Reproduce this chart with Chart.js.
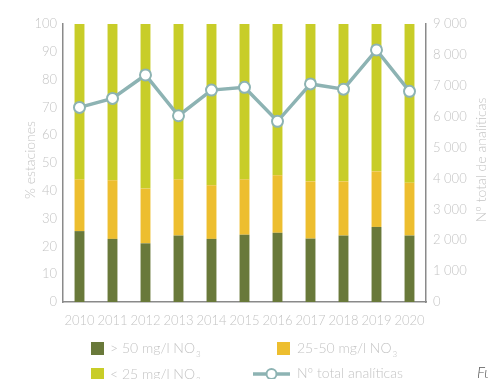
<!DOCTYPE html>
<html>
<head>
<meta charset="utf-8">
<script src="https://cdn.jsdelivr.net/npm/chart.js@4/dist/chart.umd.min.js"></script>
<style>
  html, body { margin: 0; padding: 0; background: #fff; }
  #wrap { width: 488px; height: 379px; }
</style>
</head>
<body>
<div id="wrap"><canvas id="chart" width="488" height="379"></canvas></div>
<script>
// Years on the x axis
const years = ['2010', '2011', '2012', '2013', '2014', '2015', '2016', '2017', '2018', '2019', '2020'];

// % of stations per nitrate band (stacked to 100)
const over50 = [25.5, 22.7, 21.1, 23.9, 22.7, 24.2, 24.9, 22.8, 23.9, 27.0, 23.9];
const from25to50 = [18.6, 21.1, 19.7, 20.2, 19.3, 19.9, 20.7, 20.6, 19.5, 20.0, 19.0];
const under25 = [55.9, 56.2, 59.2, 55.9, 58.0, 55.9, 54.4, 56.6, 56.6, 53.0, 57.1];

// Total number of analyses (right axis)
const totalAnalyses = [6300, 6590, 7350, 6030, 6860, 6950, 5850, 7060, 6890, 8160, 6820];

const FONT = 'Lato, "Open Sans", sans-serif';
const gray = '#c4c4c4';
const axisGray = '#8a8a8a';
const darkGreen = '#69793a';
const orange = '#edbe2f';
const lightGreen = '#c8cd28';
const teal = '#8db3b3';

// draws axis titles, legend and the cut footer text
const extras = {
    id: 'extras',
    afterDraw(chart) {
        const c = chart.ctx;
        c.save();
        c.fillStyle = gray;
        c.font = '300 14px ' + FONT;
        c.textAlign = 'center';
        c.textBaseline = 'middle';

        // left title
        c.save();
        c.translate(30, 160);
        c.rotate(-Math.PI / 2);
        c.fillText('% estaciones', 0, 0);
        c.restore();

        // right title (reads bottom to top)
        c.save();
        c.translate(481, 160);
        c.rotate(-Math.PI / 2);
        c.fillText('Nº total de analíticas', 0, 0);
        c.restore();

        // legend
        function noText(x, y, txt) {
            c.textAlign = 'left';
            c.font = '300 14px ' + FONT;
            c.fillText(txt, x, y);
            const w = c.measureText(txt).width;
            c.font = '300 8px ' + FONT;
            c.fillText('3', x + w + 1, y + 6);
        }
        c.textBaseline = 'middle';
        c.fillStyle = darkGreen;
        c.fillRect(91, 342, 13, 13);
        c.fillStyle = gray;
        noText(110, 348, '> 50 mg/l NO');

        c.fillStyle = orange;
        c.fillRect(277, 342, 13, 13);
        c.fillStyle = gray;
        noText(297, 348, '25-50 mg/l NO');

        c.fillStyle = lightGreen;
        c.fillRect(91, 368, 13, 13);
        c.fillStyle = gray;
        noText(110, 374, '< 25 mg/l NO');

        c.strokeStyle = teal;
        c.lineWidth = 3.5;
        c.beginPath();
        c.moveTo(253, 374);
        c.lineTo(290, 374);
        c.stroke();
        c.beginPath();
        c.arc(271.5, 374, 5, 0, Math.PI * 2);
        c.fillStyle = '#fff';
        c.fill();
        c.lineWidth = 2;
        c.stroke();
        c.fillStyle = gray;
        c.textAlign = 'left';
        c.font = '300 14px ' + FONT;
        c.fillText('Nº total analíticas', 297, 373);

        c.fillStyle = '#555';
        c.font = 'italic 300 15px ' + FONT;
        c.fillText('Fuente', 477, 373);
        c.restore();
    }
};

new Chart(document.getElementById('chart'), {
    type: 'bar',
    data: {
        labels: years,
        datasets: [
            {
                type: 'line',
                label: 'Nº total analíticas',
                data: totalAnalyses,
                yAxisID: 'y1',
                borderColor: teal,
                borderWidth: 3.5,
                pointRadius: 5.5,
                pointBorderWidth: 2,
                pointBackgroundColor: '#fff',
                pointBorderColor: teal,
                tension: 0,
                order: 0,
            },
            { label: '> 50 mg/l NO3', data: over50, backgroundColor: darkGreen, yAxisID: 'y', order: 1 },
            { label: '25-50 mg/l NO3', data: from25to50, backgroundColor: orange, yAxisID: 'y', order: 1 },
            { label: '< 25 mg/l NO3', data: under25, backgroundColor: lightGreen, yAxisID: 'y', order: 1 },
        ],
    },
    options: {
        responsive: false,
        animation: false,
        layout: { padding: { top: 24, left: 0, right: 0, bottom: 0 } },
        barPercentage: 0.3,
        categoryPercentage: 1,
        plugins: { legend: { display: false }, tooltip: { enabled: false } },
        scales: {
            x: {
                stacked: true,
                grid: { display: false, drawTicks: false },
                border: { color: axisGray, width: 1.5 },
                ticks: { color: gray, font: { family: FONT, size: 13, weight: 300 }, padding: 11, maxRotation: 0, autoSkip: false },
                afterFit(s) { s.height = 77; },
            },
            y: {
                stacked: true,
                min: 0,
                max: 100,
                grid: { display: false, drawTicks: false },
                border: { color: axisGray, width: 1.5 },
                ticks: { stepSize: 10, color: gray, font: { family: FONT, size: 13, weight: 300 }, padding: 6 },
                afterFit(s) { s.width = 63; },
            },
            y1: {
                position: 'right',
                min: 0,
                max: 9000,
                grid: { display: false, drawTicks: false },
                border: { color: axisGray, width: 1.5 },
                ticks: {
                    stepSize: 1000,
                    color: gray,
                    font: { family: FONT, size: 13, weight: 300 },
                    padding: 7,
                    callback: v => v >= 1000 ? Math.floor(v / 1000) + ' ' + String(v % 1000).padStart(3, '0') : String(v),
                },
                afterFit(s) { s.width = 62; },
            },
        },
    },
    plugins: [extras],
});
</script>
</body>
</html>
